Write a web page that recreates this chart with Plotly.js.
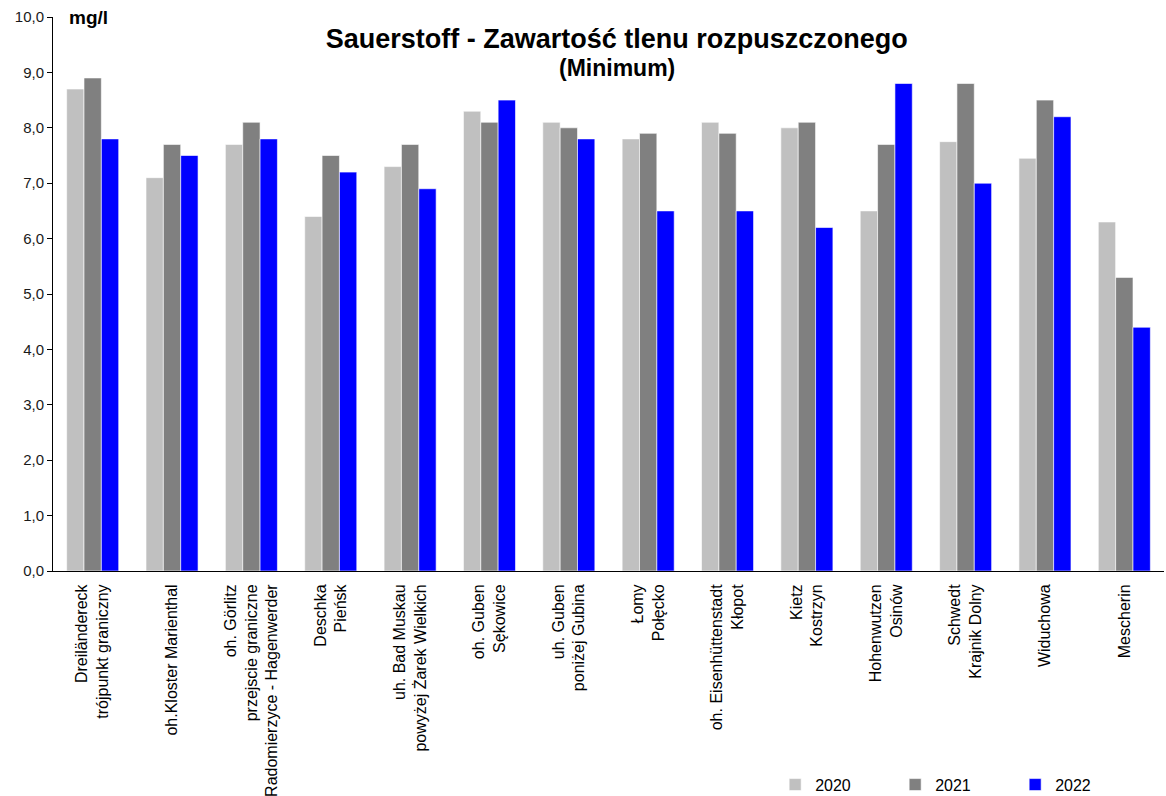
<!DOCTYPE html>
<html>
<head>
<meta charset="utf-8">
<script src="https://cdn.plot.ly/plotly-3.0.1.min.js"></script>
<style>html,body{margin:0;padding:0;background:#fff;}#chart{width:1166px;height:796px;}</style>
</head>
<body>
<div id="chart"></div>
<script>
const categories = [
  "Dreiländereck<br>trójpunkt graniczny",
  "oh.Kloster Marienthal",
  "oh. Görlitz<br>przejscie graniczne<br>Radomierzyce - Hagenwerder",
  "Deschka<br>Pieńsk",
  "uh. Bad Muskau<br>powyżej Żarek Wielkich",
  "oh. Guben<br>Sękowice",
  "uh. Guben<br>poniżej Gubina",
  "Łomy<br>Połęcko",
  "oh. Eisenhüttenstadt<br>Kłopot",
  "Kietz<br>Kostrzyn",
  "Hohenwutzen<br>Osinów",
  "Schwedt<br>Krajnik Dolny",
  "Widuchowa",
  "Mescherin"
];
const values2020 = [8.7, 7.1, 7.7, 6.4, 7.3, 8.3, 8.1, 7.8, 8.1, 8.0, 6.5, 7.75, 7.45, 6.3];
const values2021 = [8.9, 7.7, 8.1, 7.5, 7.7, 8.1, 8.0, 7.9, 7.9, 8.1, 7.7, 8.8, 8.5, 5.3];
const values2022 = [7.8, 7.5, 7.8, 7.2, 6.9, 8.5, 7.8, 6.5, 6.5, 6.2, 8.8, 7.0, 8.2, 4.4];
const seriesNames = ["2020", "2021", "2022"];
const seriesColors = ["#C0C0C0", "#808080", "#0000FF"];

const allValues = [values2020, values2021, values2022];
const traces = allValues.map((vals, i) => ({
  type: "bar",
  name: seriesNames[i],
  x: categories,
  y: vals,
  marker: {color: seriesColors[i], line: {color: "#ffffff", width: 0.6}},
  hoverinfo: "x+y+name"
}));

const font = "Arial, 'Liberation Sans', sans-serif";
const layout = {
  width: 1166,
  height: 796,
  paper_bgcolor: "#ffffff",
  plot_bgcolor: "#ffffff",
  margin: {l: 53, r: 2, t: 17, b: 225, autoexpand: false},
  barmode: "group",
  bargap: 0.344,
  bargroupgap: 0,
  separators: ",.",
  font: {family: font, color: "#000000", size: 14},
  xaxis: {
    type: "category",
    tickangle: -90,
    showline: true,
    linecolor: "#000000",
    linewidth: 1,
    ticks: "",
    ticklabelstandoff: 6,
    showgrid: false,
    tickfont: {family: font, size: 16, color: "#000000"},
    automargin: false
  },
  yaxis: {
    range: [0, 10],
    dtick: 1,
    tickformat: ".1f",
    showline: true,
    linecolor: "#000000",
    linewidth: 1,
    ticks: "outside",
    ticklen: 5,
    tickcolor: "#000000",
    showgrid: false,
    zeroline: false,
    tickfont: {family: font, size: 15, color: "#1a1a1a"},
    automargin: false
  },
  showlegend: true,
  legend: {
    orientation: "h",
    x: 0.65,
    xanchor: "left",
    y: -0.355,
    yanchor: "top",
    font: {family: font, size: 16, color: "#000000"},
    entrywidth: 75,
    entrywidthmode: "pixels",
    itemwidth: 30,
    bgcolor: "rgba(0,0,0,0)"
  },
  title: {
    text: "<b>Sauerstoff - Zawartość tlenu rozpuszczonego</b>",
    font: {family: font, size: 27, color: "#000000"},
    x: 0.529,
    xanchor: "center",
    yref: "container",
    y: 0.952,
    yanchor: "middle"
  },
  annotations: [
    {
      text: "<b>(Minimum)</b>",
      xref: "paper", yref: "paper",
      x: 0.508, y: 0.908,
      xanchor: "center", yanchor: "middle",
      showarrow: false,
      font: {family: font, size: 23, color: "#000000"}
    },
    {
      text: "<b>mg/l</b>",
      xref: "paper", yref: "paper",
      x: 0.013, y: 1.0,
      xanchor: "left", yanchor: "middle",
      showarrow: false,
      font: {family: font, size: 19, color: "#000000"}
    }
  ]
};

Plotly.newPlot("chart", traces, layout, {displayModeBar: false, staticPlot: true});
</script>
</body>
</html>
